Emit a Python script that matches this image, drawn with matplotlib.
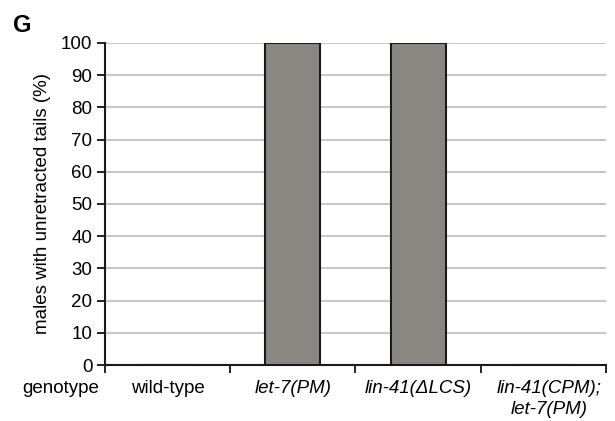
import matplotlib.pyplot as plt
import numpy as np

plt.rcParams['font.family'] = ['Liberation Sans', 'DejaVu Sans']

genotypes = ['wild-type', 'let-7(PM)', 'lin-41(\u0394LCS)', 'lin-41(CPM);\nlet-7(PM)']
unretracted = [0, 100, 100, 0]
yticks = list(range(0, 101, 10))

fig = plt.figure(figsize=(6.15, 4.21), dpi=100)
ax = fig.add_axes([0.1707, 0.133, 0.8146, 0.765])

x = np.arange(len(genotypes))
ax.bar(x, unretracted, width=0.44, color='#8a8682', edgecolor='#1a1a1a', linewidth=1.5, zorder=3)

ax.set_xlim(-0.5, len(genotypes) - 0.5)
ax.set_ylim(0, 100)
ax.set_yticks(yticks)
ax.yaxis.grid(True, color='#c8c8c8', linewidth=1.5, zorder=0)
ax.tick_params(axis='y', labelsize=13.5, direction='out', length=6, width=1.2, pad=3)

ax.set_xticks(np.arange(len(genotypes) + 1) - 0.5)
ax.set_xticklabels([])
ax.tick_params(axis='x', direction='out', length=6, width=1.2)
for i, g in enumerate(genotypes):
    if i == len(genotypes) - 1:
        ax.text(i + 0.05, -4.8, g, ha='center', va='top', fontsize=13.5, style='italic',
                multialignment='center', linespacing=1.3)
    else:
        ax.text(i, -4.8, g, ha='center', va='top', fontsize=13.5,
                style='normal' if i == 0 else 'italic')
ax.text(-0.85, -4.8, 'genotype', ha='center', va='top', fontsize=13.5)

for s in ['top', 'right']:
    ax.spines[s].set_visible(False)
for s in ['left', 'bottom']:
    ax.spines[s].set_linewidth(1.5)
    ax.spines[s].set_color('#1a1a1a')

ax.set_ylabel('males with unretracted tails (%)', fontsize=13.5, labelpad=7)
fig.text(0.021, 0.924, 'G', fontsize=17, fontweight='bold')

fig.savefig('out.png', dpi=100)
